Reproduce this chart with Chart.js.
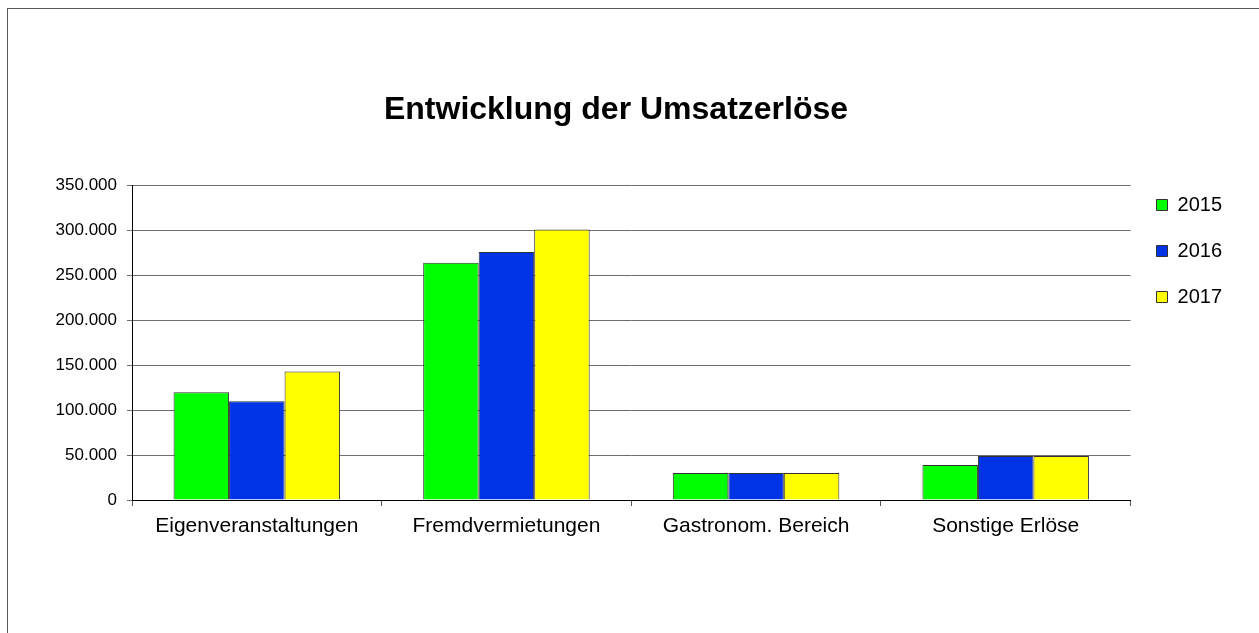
<!DOCTYPE html>
<html>
<head>
<meta charset="utf-8">
<script src="https://cdn.jsdelivr.net/npm/chart.js@4"></script>
<style>
    html, body { margin: 0; padding: 0; background: #fff; overflow: hidden; }
    #rahmen { position: absolute; left: 7px; top: 8px; width: 1400px; height: 800px; border: 1px solid #5a5a5a; }
    #grafico { position: absolute; left: 0; top: 0; }
</style>
</head>
<body>
<div id="rahmen"></div>
<canvas id="grafico" width="1259" height="633"></canvas>
<script>
// Daten der Grafik
const kategorien = ['Eigenveranstaltungen', 'Fremdvermietungen', 'Gastronom. Bereich', 'Sonstige Erlöse'];
const jahre = ['2015', '2016', '2017'];
const werte2015 = [120000, 264000, 30000, 39000];
const werte2016 = [110000, 276000, 30000, 49000];
const werte2017 = [143000, 301000, 30000, 49000];
const farben = ['#00ff00', '#0033e6', '#ffff00'];
const yMin = 0;
const yMax = 350000;
const ySchritt = 50000;

const schrift = '"Liberation Sans", Arial, sans-serif';
Chart.defaults.font.family = schrift;
Chart.defaults.color = '#000';

// Tausenderpunkt wie im Original
function formatZahl(v) {
    return String(v).replace(/\B(?=(\d{3})+(?!\d))/g, '.');
}

const reihen = [werte2015, werte2016, werte2017];

const ctx = document.getElementById('grafico').getContext('2d');
const grafico = new Chart(ctx, {
    type: 'bar',
    data: {
        labels: kategorien,
        datasets: jahre.map((jahr, i) => ({
            label: jahr,
            data: reihen[i],
            backgroundColor: farben[i],
            borderColor: '#333',
            borderWidth: 1,
            barPercentage: 1,
            categoryPercentage: 0.667
        }))
    },
    options: {
        responsive: false,
        animation: false,
        layout: { padding: { left: 0, right: 27, top: 0, bottom: 0 } },
        plugins: {
            title: {
                display: true,
                text: 'Entwicklung der Umsatzerlöse',
                font: { size: 32, weight: 'bold' },
                color: '#000',
                padding: { top: 91, bottom: 56 }
            },
            legend: {
                position: 'right',
                align: 'start',
                // leerer Titel schiebt die Eintraege nach unten
                title: { display: true, text: ' ', font: { size: 10 }, padding: { top: 157, bottom: 0 } },
                labels: {
                    boxWidth: 11,
                    boxHeight: 11,
                    padding: 26,
                    font: { size: 20 },
                    color: '#000'
                }
            },
            tooltip: { enabled: false }
        },
        scales: {
            x: {
                grid: { display: true, drawOnChartArea: false, offset: true, tickLength: 6, color: '#555' },
                border: { color: '#000', width: 1 },
                ticks: { font: { size: 21 }, padding: 8, color: '#000', maxRotation: 0 },
                afterFit: function (scale) { scale.height = 133; }
            },
            y: {
                min: yMin,
                max: yMax,
                grid: { color: '#6e6e6e', tickLength: 5 },
                border: { color: '#000', width: 1 },
                ticks: {
                    stepSize: ySchritt,
                    font: { size: 17 },
                    padding: 10,
                    color: '#000',
                    callback: function (v) { return formatZahl(v); }
                },
                afterFit: function (scale) { scale.width = 132; }
            }
        }
    }
});
</script>
</body>
</html>
